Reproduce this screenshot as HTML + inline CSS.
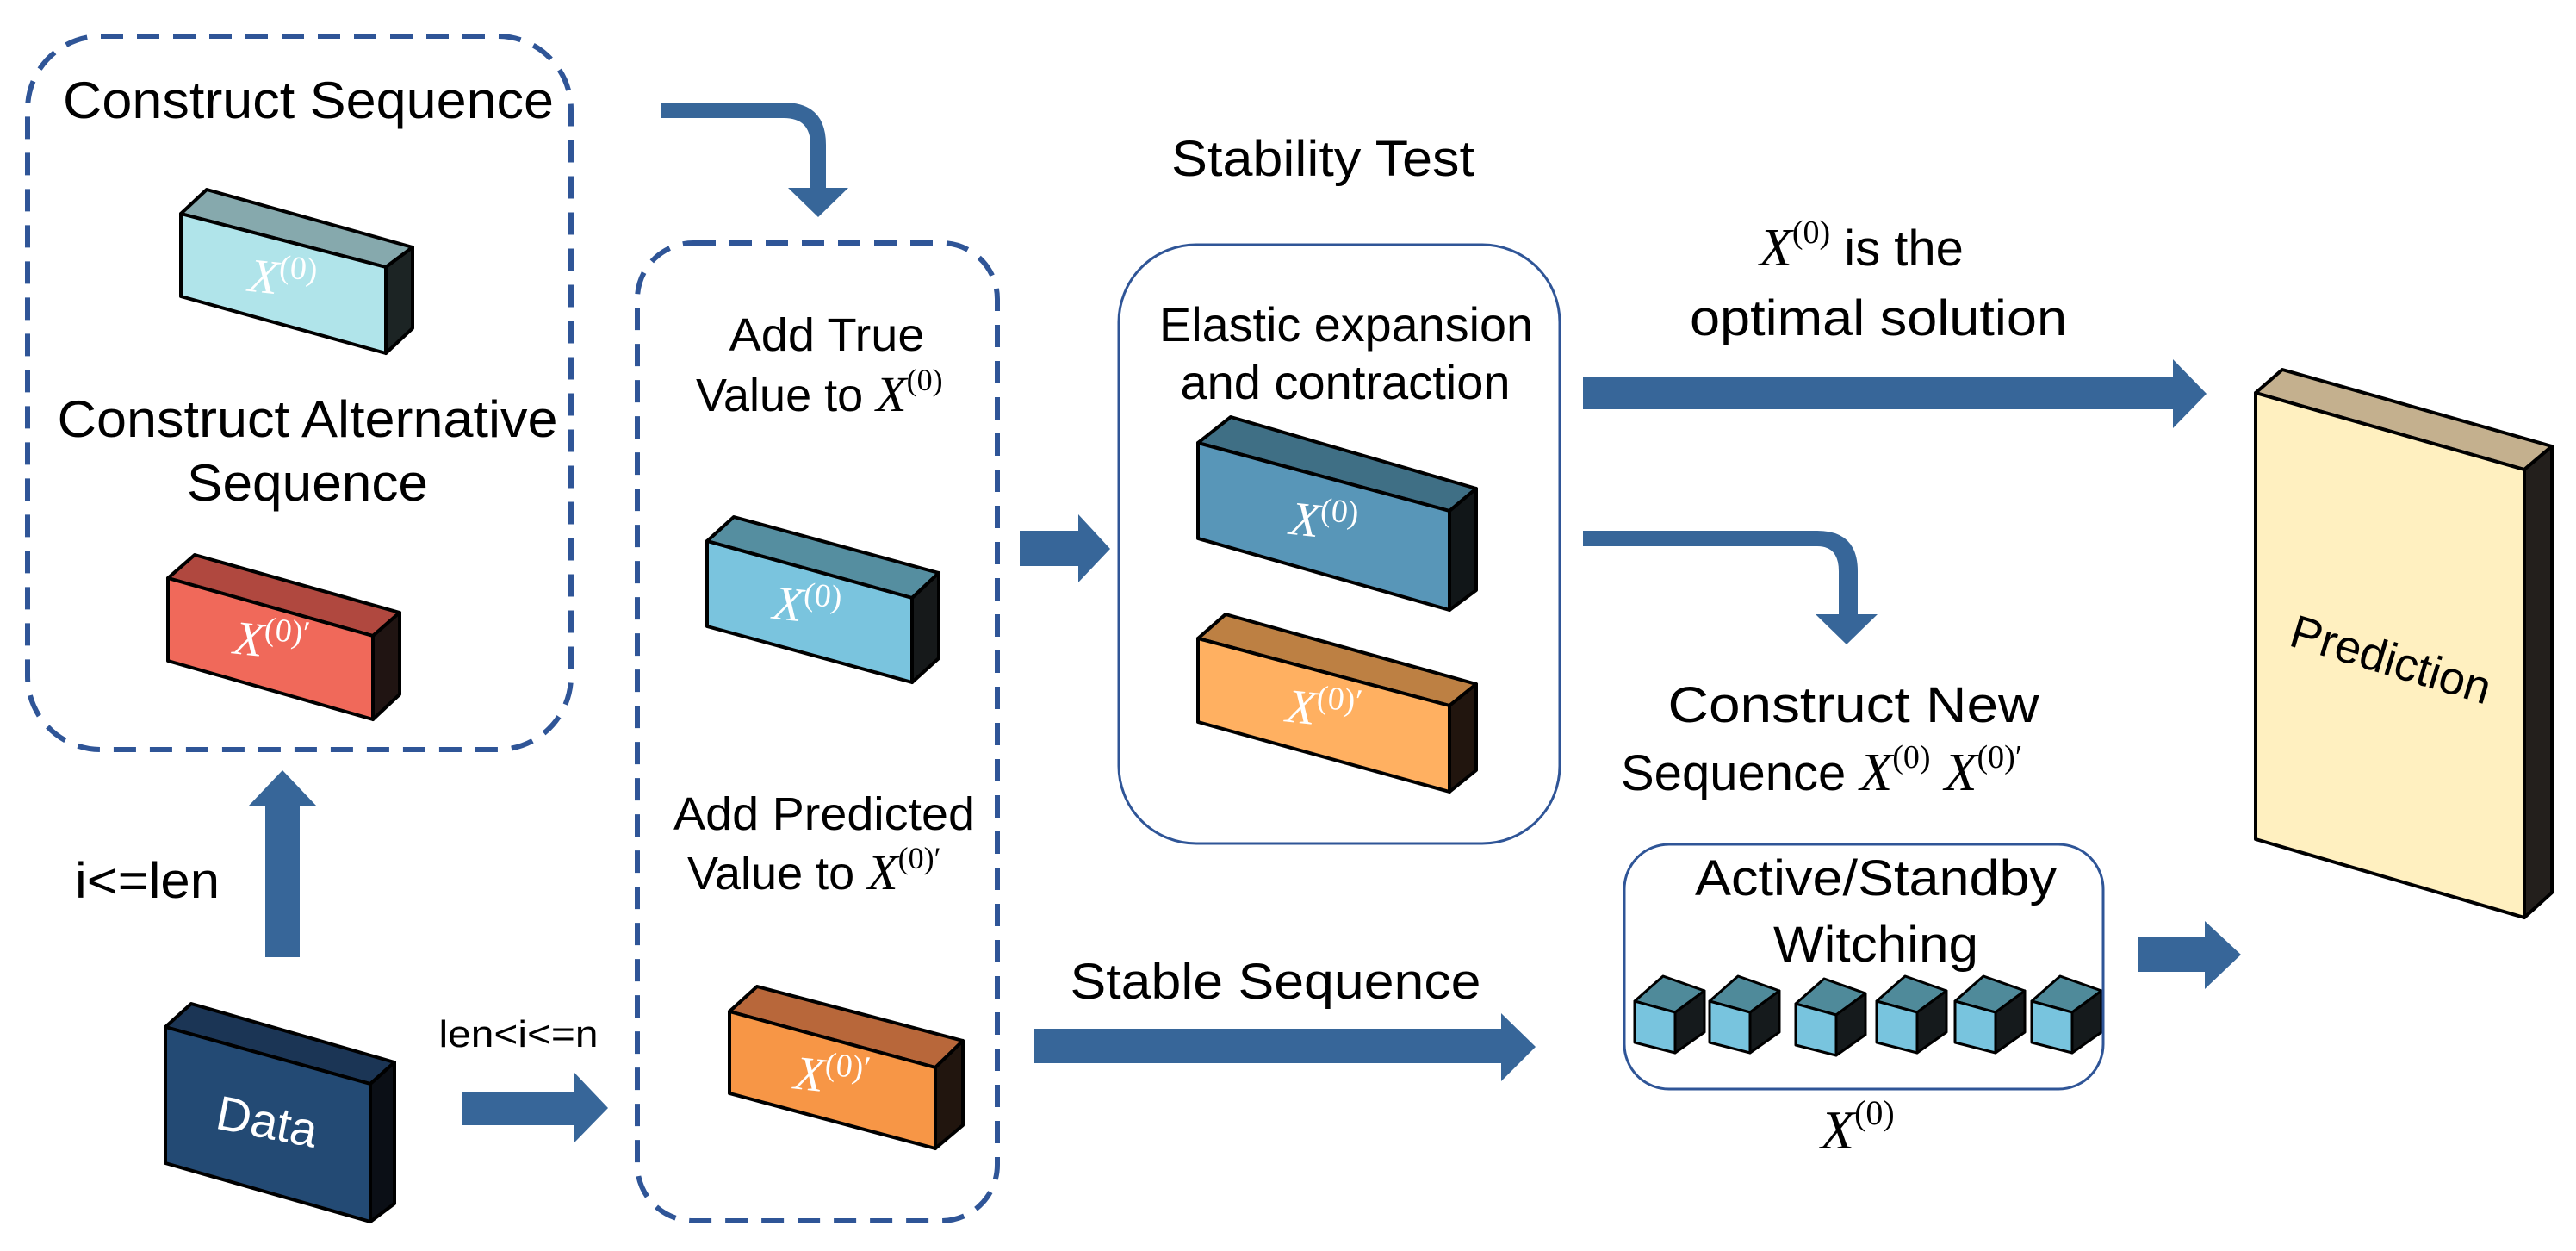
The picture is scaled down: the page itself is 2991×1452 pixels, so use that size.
<!DOCTYPE html>
<html><head><meta charset="utf-8"><style>
html,body{margin:0;padding:0;background:#fff;}
svg{display:block;}
.t{font-family:"Liberation Sans",sans-serif;fill:#000;}
.m{font-family:"Liberation Serif",serif;font-style:italic;}
.ms{font-family:"Liberation Serif",serif;font-style:normal;}
</style></head><body>
<svg width="2991" height="1452" viewBox="0 0 2991 1452" xmlns="http://www.w3.org/2000/svg">
<g stroke="#000" stroke-width="4" stroke-linejoin="round">
<polygon points="210,248 240,220 479,287 448,310" fill="#86a9ad"/>
<polygon points="448,310 479,287 479,381 448,410" fill="#1c2424"/>
<polygon points="210,248 448,310 448,410 210,344" fill="#b0e4ea"/>
<polygon points="195,671 226,644 464,711 433,738" fill="#b0483f"/>
<polygon points="433,738 464,711 464,806 433,835" fill="#201412"/>
<polygon points="195,671 433,738 433,835 195,767" fill="#f0695a"/>
<polygon points="192,1192 222,1165 458,1233 430,1258" fill="#1b3555"/>
<polygon points="430,1258 458,1233 458,1397 430,1418" fill="#0b0f16"/>
<polygon points="192,1192 430,1258 430,1418 192,1350" fill="#234a74"/>
<polygon points="821,628 852,600 1090,665 1059,694" fill="#558ea0"/>
<polygon points="1059,694 1090,665 1090,764 1059,792" fill="#16191a"/>
<polygon points="821,628 1059,694 1059,792 821,727" fill="#7ac4de"/>
<polygon points="847,1174 879,1145 1118,1208 1086,1239" fill="#b8673a"/>
<polygon points="1086,1239 1118,1208 1118,1306 1086,1333" fill="#21150e"/>
<polygon points="847,1174 1086,1239 1086,1333 847,1269" fill="#f79646"/>
<polygon points="1391,514 1429,484 1714,567 1683,593" fill="#3f6f85"/>
<polygon points="1683,593 1714,567 1714,685 1683,708" fill="#111618"/>
<polygon points="1391,514 1683,593 1683,708 1391,625" fill="#5896b8"/>
<polygon points="1391,741 1423,713 1714,794 1683,819" fill="#bd8043"/>
<polygon points="1683,819 1714,794 1714,894 1683,919" fill="#21150e"/>
<polygon points="1391,741 1683,819 1683,919 1391,838" fill="#ffb061"/>
<polygon points="2619,456 2650,429 2963,518 2931,545" fill="#c4b08e"/>
<polygon points="2931,545 2963,518 2963,1036 2931,1065" fill="#231f1c"/>
<polygon points="2619,456 2931,545 2931,1065 2619,974" fill="#fff0c0"/>
</g>
<g stroke="#000" stroke-width="3" stroke-linejoin="round">
<g transform="translate(1898,0)"><polygon points="0,1162 33,1133 81,1150 47,1175" fill="#4f8a9a"/><polygon points="47,1175 81,1150 81,1198 47,1222" fill="#151a1c"/><polygon points="0,1162 47,1175 47,1222 0,1210" fill="#78c4de"/></g>
<g transform="translate(1985,0)"><polygon points="0,1162 33,1133 81,1150 47,1175" fill="#4f8a9a"/><polygon points="47,1175 81,1150 81,1198 47,1222" fill="#151a1c"/><polygon points="0,1162 47,1175 47,1222 0,1210" fill="#78c4de"/></g>
<g transform="translate(2085,3)"><polygon points="0,1162 33,1133 81,1150 47,1175" fill="#4f8a9a"/><polygon points="47,1175 81,1150 81,1198 47,1222" fill="#151a1c"/><polygon points="0,1162 47,1175 47,1222 0,1210" fill="#78c4de"/></g>
<g transform="translate(2179,0)"><polygon points="0,1162 33,1133 81,1150 47,1175" fill="#4f8a9a"/><polygon points="47,1175 81,1150 81,1198 47,1222" fill="#151a1c"/><polygon points="0,1162 47,1175 47,1222 0,1210" fill="#78c4de"/></g>
<g transform="translate(2270,0)"><polygon points="0,1162 33,1133 81,1150 47,1175" fill="#4f8a9a"/><polygon points="47,1175 81,1150 81,1198 47,1222" fill="#151a1c"/><polygon points="0,1162 47,1175 47,1222 0,1210" fill="#78c4de"/></g>
<g transform="translate(2359,0)"><polygon points="0,1162 33,1133 81,1150 47,1175" fill="#4f8a9a"/><polygon points="47,1175 81,1150 81,1198 47,1222" fill="#151a1c"/><polygon points="0,1162 47,1175 47,1222 0,1210" fill="#78c4de"/></g>
</g>
<rect x="32" y="42" width="631" height="828" rx="85" fill="none" stroke="#2f5597" stroke-width="6" stroke-dasharray="26,16"/>
<rect x="740" y="282" width="418" height="1135" rx="65" fill="none" stroke="#2f5597" stroke-width="6" stroke-dasharray="26,16"/>
<rect x="1299" y="284" width="512" height="695" rx="90" fill="none" stroke="#2f5597" stroke-width="3"/>
<rect x="1886" y="980" width="556" height="284" rx="52" fill="none" stroke="#2f5597" stroke-width="3"/>
<g fill="#376699">
<polygon points="308,1111 308,935 289,935 328,894 367,935 348,935 348,1111"/>
<polygon points="536,1267 667,1267 667,1245 706,1286 667,1326 667,1306 536,1306"/>
<path d="M767,119 L910,119 Q959,119 959,168 L959,218 L985,218 L950,252 L915,218 L941,218 L941,168 Q941,137 910,137 L767,137 Z"/>
<polygon points="1184,616 1252,616 1252,597 1289,637 1252,676 1252,657 1184,657"/>
<polygon points="1838,437 2523,437 2523,417 2562,457 2523,497 2523,475 1838,475"/>
<path d="M1838,616 L2110,616 Q2157,616 2157,663 L2157,713 L2180,713 L2144,748 L2108,713 L2135,713 L2135,663 Q2135,634 2110,634 L1838,634 Z"/>
<polygon points="1200,1194 1743,1194 1743,1176 1783,1215 1743,1255 1743,1234 1200,1234"/>
<polygon points="2483,1088 2560,1088 2560,1069 2602,1108 2560,1148 2560,1128 2483,1128"/>
</g>
<text class="t" x="358" y="137" font-size="60" text-anchor="middle" textLength="570" lengthAdjust="spacingAndGlyphs">Construct Sequence</text>
<text class="t" x="357" y="507" font-size="60" text-anchor="middle" textLength="581" lengthAdjust="spacingAndGlyphs">Construct Alternative</text>
<text class="t" x="357" y="581" font-size="60" text-anchor="middle" textLength="280" lengthAdjust="spacingAndGlyphs">Sequence</text>
<text class="t" x="171" y="1042" font-size="58" text-anchor="middle" textLength="168" lengthAdjust="spacingAndGlyphs">i&lt;=len</text>
<text class="t" x="602" y="1215" font-size="44" text-anchor="middle" textLength="185" lengthAdjust="spacingAndGlyphs">len&lt;i&lt;=n</text>
<text class="t" x="310" y="1303" font-size="56" style="fill:#fff" text-anchor="middle" transform="rotate(11 310 1303)" dy="18">Data</text>
<text class="t" x="960" y="407" font-size="54" text-anchor="middle" textLength="227" lengthAdjust="spacingAndGlyphs">Add True</text>
<text class="t" x="808" y="477" font-size="54">Value to <tspan class="m" font-size="58">X</tspan><tspan class="ms" font-size="36" dy="-24">(0)</tspan></text>
<text class="t" x="957" y="963" font-size="54" text-anchor="middle" textLength="350" lengthAdjust="spacingAndGlyphs">Add Predicted</text>
<text class="t" x="798" y="1032" font-size="54">Value to <tspan class="m" font-size="58">X</tspan><tspan class="ms" font-size="36" dy="-24">(0)′</tspan></text>
<text class="t" x="1536" y="204" font-size="58" text-anchor="middle" textLength="352" lengthAdjust="spacingAndGlyphs">Stability Test</text>
<text class="t" x="1563" y="396" font-size="56" text-anchor="middle" textLength="434" lengthAdjust="spacingAndGlyphs">Elastic expansion</text>
<text class="t" x="1562" y="463" font-size="56" text-anchor="middle" textLength="383" lengthAdjust="spacingAndGlyphs">and contraction</text>
<text class="t" x="2043" y="308" font-size="58"><tspan class="m" font-size="62">X</tspan><tspan class="ms" font-size="38" dy="-26">(0)</tspan><tspan dy="26"> is the</tspan></text>
<text class="t" x="2181" y="389" font-size="58" text-anchor="middle" textLength="438" lengthAdjust="spacingAndGlyphs">optimal solution</text>
<text class="t" x="2152" y="838" font-size="58" text-anchor="middle" textLength="431" lengthAdjust="spacingAndGlyphs">Construct  New</text>
<text class="t" x="1882" y="917" font-size="58">Sequence <tspan class="m" font-size="62">X</tspan><tspan class="ms" font-size="38" dy="-26">(0)</tspan><tspan dy="26"> </tspan><tspan class="m" font-size="62">X</tspan><tspan class="ms" font-size="38" dy="-26">(0)′</tspan></text>
<text class="t" x="2178" y="1039" font-size="58" text-anchor="middle" textLength="420" lengthAdjust="spacingAndGlyphs">Active/Standby</text>
<text class="t" x="2178" y="1116" font-size="58" text-anchor="middle" textLength="238" lengthAdjust="spacingAndGlyphs">Witching</text>
<text class="t" x="2114" y="1333" font-size="60"><tspan class="m" font-size="64">X</tspan><tspan class="ms" font-size="40" dy="-28">(0)</tspan></text>
<text class="t" x="1481" y="1159" font-size="58" text-anchor="middle" textLength="477" lengthAdjust="spacingAndGlyphs">Stable Sequence</text>
<text class="t" x="2776" y="766" font-size="54" text-anchor="middle" transform="rotate(16.7 2776 766)" dy="18">Prediction</text>
<g fill="#fff" font-family="Liberation Serif,serif">
<text x="328" y="324" transform="rotate(6 328 324)" text-anchor="middle" dy="18"><tspan font-style="italic" font-size="56">X</tspan><tspan font-size="38" dy="-20">(0)</tspan></text>
<text x="315" y="745" transform="rotate(6 315 745)" text-anchor="middle" dy="18"><tspan font-style="italic" font-size="56">X</tspan><tspan font-size="38" dy="-20">(0)′</tspan></text>
<text x="937" y="704" transform="rotate(6 937 704)" text-anchor="middle" dy="18"><tspan font-style="italic" font-size="56">X</tspan><tspan font-size="38" dy="-20">(0)</tspan></text>
<text x="966" y="1250" transform="rotate(6 966 1250)" text-anchor="middle" dy="18"><tspan font-style="italic" font-size="56">X</tspan><tspan font-size="38" dy="-20">(0)′</tspan></text>
<text x="1537" y="606" transform="rotate(6 1537 606)" text-anchor="middle" dy="18"><tspan font-style="italic" font-size="56">X</tspan><tspan font-size="38" dy="-20">(0)</tspan></text>
<text x="1537" y="824" transform="rotate(6 1537 824)" text-anchor="middle" dy="18"><tspan font-style="italic" font-size="56">X</tspan><tspan font-size="38" dy="-20">(0)′</tspan></text>
</g>
</svg>
</body></html>
